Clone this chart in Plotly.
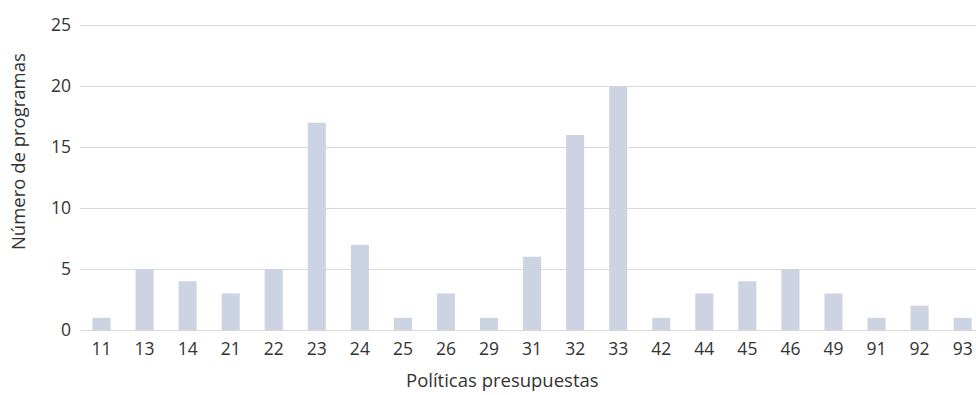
import plotly.graph_objects as go

politicas = ["11", "13", "14", "21", "22", "23", "24", "25", "26", "29", "31",
             "32", "33", "42", "44", "45", "46", "49", "91", "92", "93"]
programas = [1, 5, 4, 3, 5, 17, 7, 1, 3, 1, 6, 16, 20, 1, 3, 4, 5, 3, 1, 2, 1]

y_ticks = [0, 5, 10, 15, 20, 25]

fuente = "Open Sans, Segoe UI, sans-serif"
gris_texto = "#333333"

fig = go.Figure()
fig.add_trace(go.Bar(x=politicas, y=programas, marker_color="#CCD3E2",
                     marker_line_width=0, hoverinfo="x+y"))

fig.update_layout(
    width=976, height=395,
    margin=dict(l=80, r=0, t=24, b=65),
    plot_bgcolor="white", paper_bgcolor="white",
    bargap=0.58,
    showlegend=False,
    font=dict(family=fuente, size=17.5, color=gris_texto),
    annotations=[
        dict(text="Políticas presupuestas", xref="paper", yref="paper",
             x=0.471, y=-0.163, showarrow=False, xanchor="center", yanchor="middle",
             font=dict(family=fuente, size=18.5, color=gris_texto)),
        dict(text="Número de programas", xref="paper", yref="paper",
             x=-0.069, y=0.582, showarrow=False, textangle=-90,
             xanchor="center", yanchor="middle",
             font=dict(family=fuente, size=18.5, color=gris_texto)),
    ],
)
fig.update_xaxes(type="category", range=[-0.5, 20.31], showgrid=False,
                 showline=False, ticks="", ticklabelstandoff=6,
                 tickfont=dict(size=17.5))
fig.update_yaxes(range=[0, 25.1], tickvals=y_ticks, showgrid=True,
                 gridcolor="#D9D9D9", gridwidth=1, zeroline=True,
                 zerolinecolor="#D9D9D9", zerolinewidth=1, showline=False,
                 ticks="", ticklabelstandoff=8, tickfont=dict(size=17.5))

# quitar el margen por defecto del body para que la figura ocupe toda la ventana
fig.write_html("out.html", config={"displayModeBar": False},
               post_script="document.body.style.margin='0';")
